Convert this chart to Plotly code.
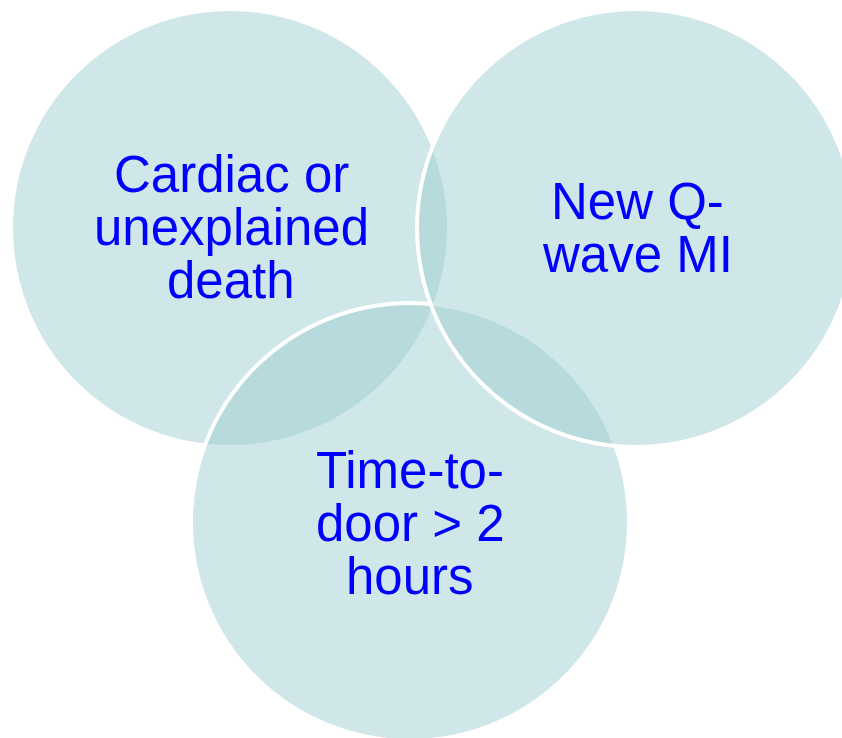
import plotly.graph_objects as go

# Venn circles (drawn in this order: bottom to top)
circle_names = ["Cardiac or unexplained death", "Time-to-door > 2 hours", "New Q-wave MI"]
center_x = [230, 410, 636]
center_y = [228, 522, 228]
radius = [219, 219, 219]

# Label lines per circle
label_lines = [
    ["Cardiac or", "unexplained", "death"],
    ["Time-to-", "door > 2", "hours"],
    ["New Q-", "wave MI"],
]
label_x = [231, 410, 637]
label_first_y = [174, 470, 201]
line_pitch = 53

fill_color = "rgba(159,207,209,0.5)"
text_color = "#0000FF"

fig = go.Figure()

for cx, cy, r in zip(center_x, center_y, radius):
    fig.add_shape(
        type="circle", xref="x", yref="y",
        x0=cx - r, x1=cx + r, y0=cy - r, y1=cy + r,
        fillcolor=fill_color,
        line=dict(color="white", width=4),
    )

for lines, lx, ly in zip(label_lines, label_x, label_first_y):
    for i, t in enumerate(lines):
        fig.add_annotation(
            x=lx, y=ly + i * line_pitch, xref="x", yref="y",
            text=t, showarrow=False,
            xanchor="center", yanchor="middle",
            font=dict(family="Liberation Sans, Arial, sans-serif", size=51, color=text_color),
        )

fig.update_layout(
    width=842, height=738,
    margin=dict(l=0, r=0, t=0, b=0),
    paper_bgcolor="white", plot_bgcolor="white",
    xaxis=dict(range=[0, 842], visible=False, fixedrange=True),
    yaxis=dict(range=[738, 0], visible=False, fixedrange=True),
    showlegend=False,
)

fig.write_html(
    "out.html",
    config={"displayModeBar": False},
    post_script="document.body.style.margin='0';document.body.style.overflow='hidden';",
)
